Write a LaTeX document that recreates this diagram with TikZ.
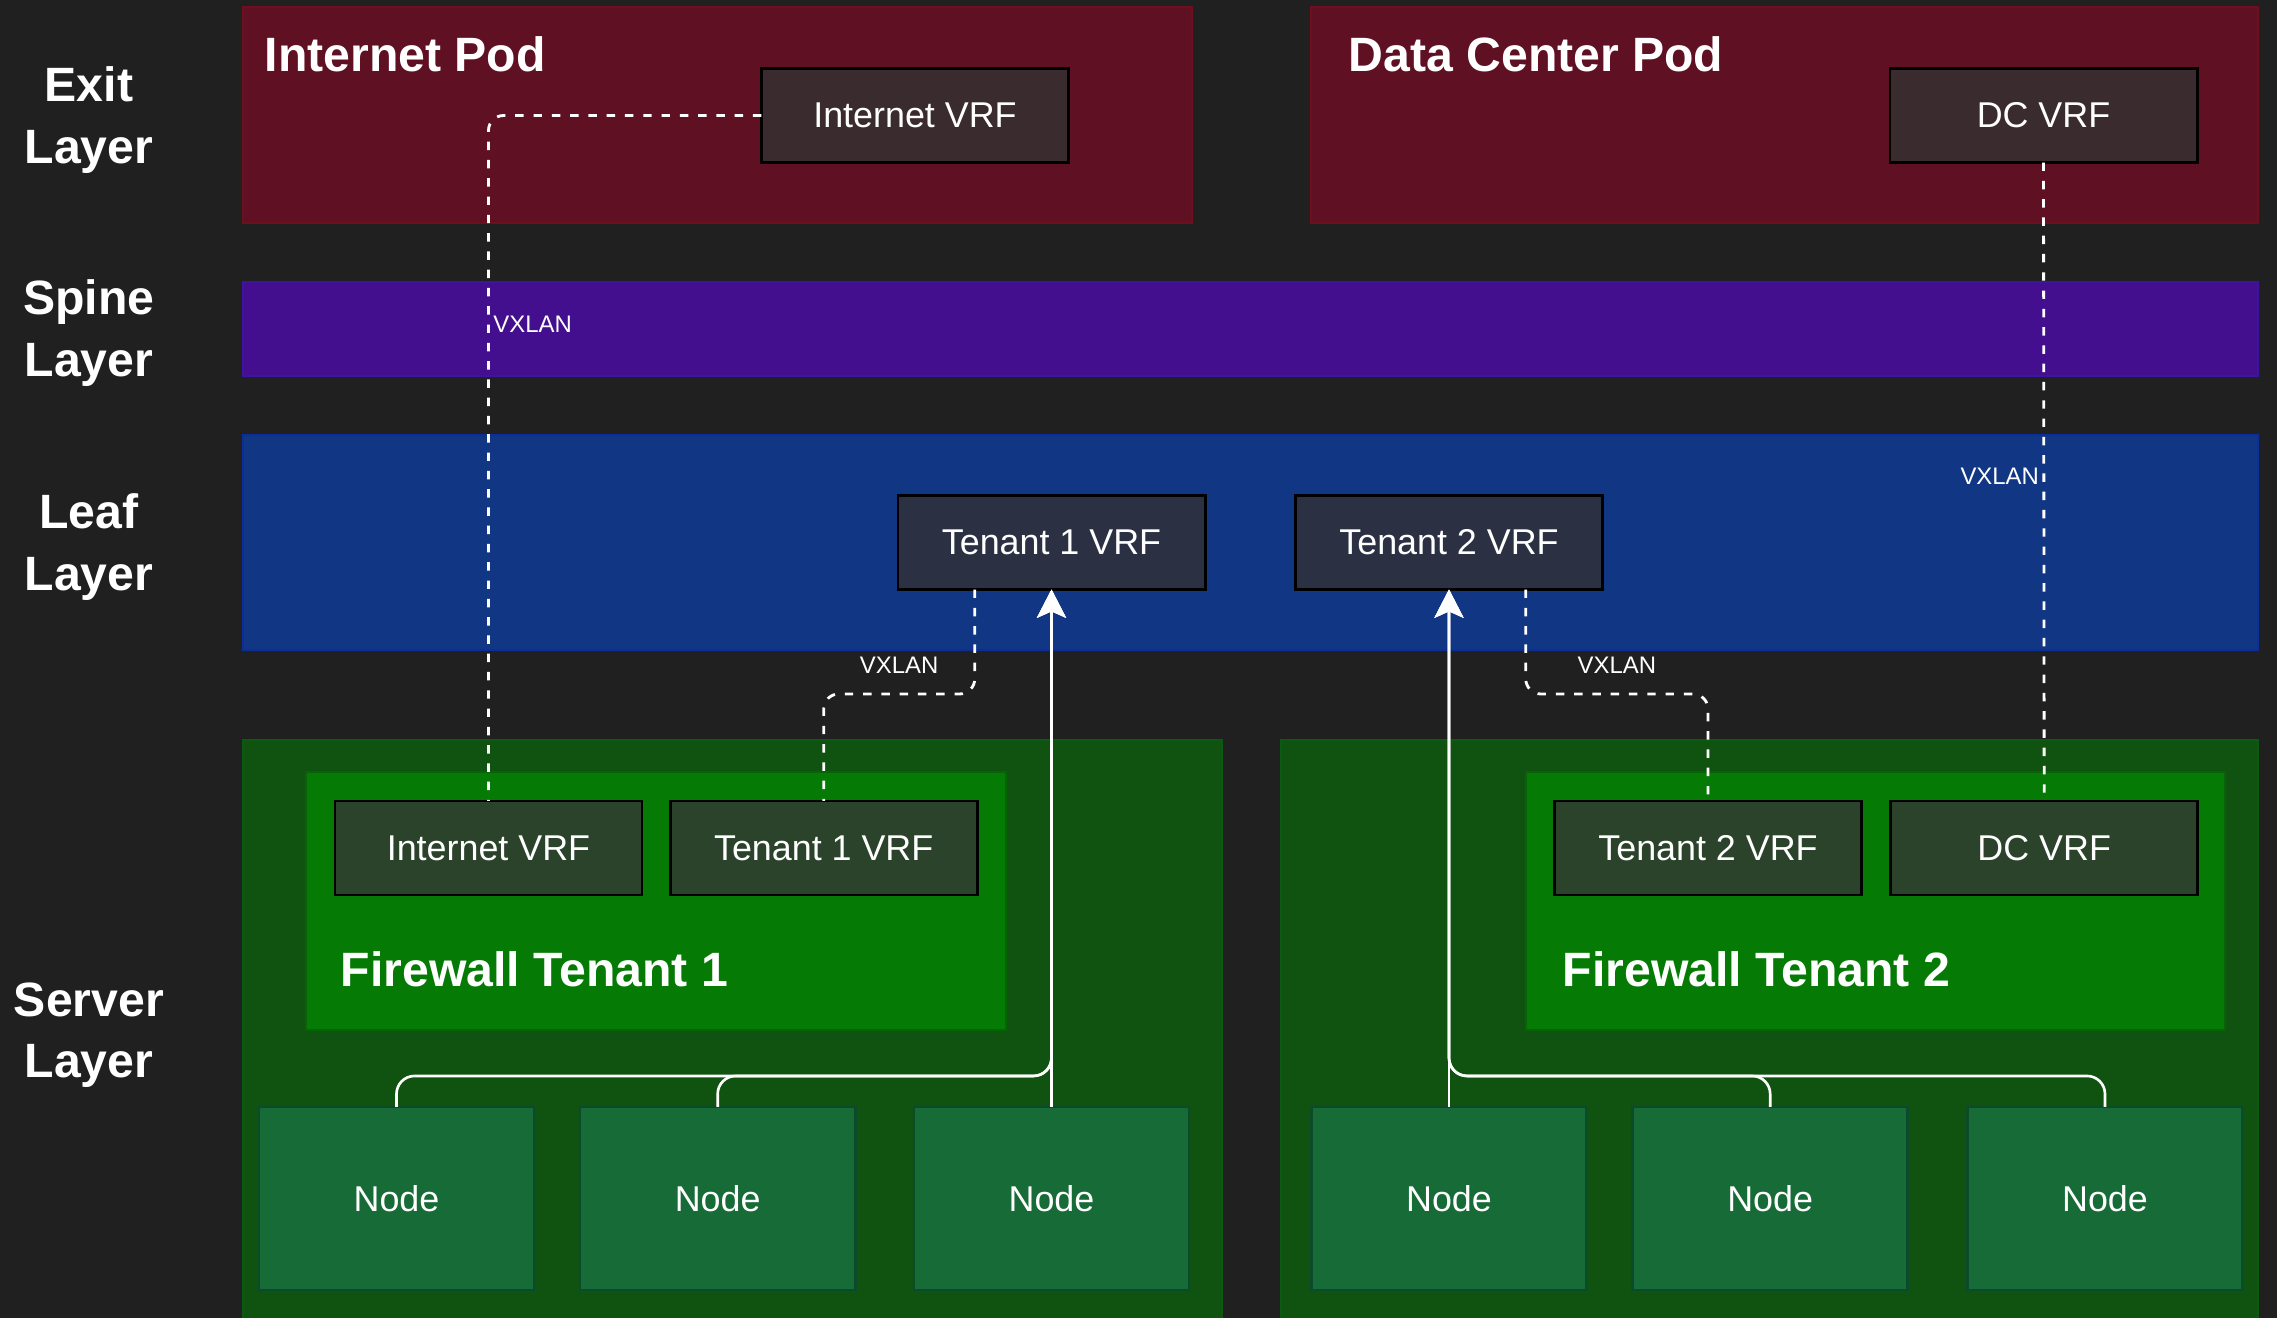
\documentclass[tikz,border=0pt]{standalone}
\usepackage{fontspec}
\setmainfont{Liberation Sans}
\usetikzlibrary{positioning,calc,arrows.meta}
\definecolor{bgdark}{HTML}{202020}
\definecolor{podred}{HTML}{5F1022}
\definecolor{podedge}{HTML}{6D0F1C}
\definecolor{spinepurple}{HTML}{440F8E}
\definecolor{spineedge}{HTML}{3C14A0}
\definecolor{leafblue}{HTML}{113784}
\definecolor{leafedge}{HTML}{0C2E9A}
\definecolor{srvgreen}{HTML}{10520F}
\definecolor{srvedge}{HTML}{0A5A12}
\definecolor{fwgreen}{HTML}{057B05}
\definecolor{fwedge}{HTML}{066406}
\definecolor{exitvrf}{HTML}{3A2B2F}
\definecolor{leafvrf}{HTML}{2B3142}
\definecolor{srvvrf}{HTML}{2B422B}
\definecolor{nodegreen}{HTML}{176B37}
\definecolor{nodeedge}{HTML}{0C4A2C}

\begin{document}
\begin{tikzpicture}[x=0.01cm,y=-0.01cm,
    band/.style={inner sep=0pt,outer sep=0pt,anchor=north west,line width=0.6pt},
    vrf/.style={draw=black,line width=0.8pt,inner sep=0pt,outer sep=0pt,minimum width=3.07cm,minimum height=0.94cm,text=white,font=\fontsize{10.2}{12}\selectfont},
    srvnode/.style={draw=nodeedge,fill=nodegreen,line width=0.75pt,inner sep=0pt,outer sep=0pt,minimum width=2.75cm,minimum height=1.83cm,text=white,font=\fontsize{10.2}{12}\selectfont},
    layername/.style={text=white,align=center,inner sep=0pt,font=\bfseries\fontsize{13.7}{17.4}\selectfont},
    podtitle/.style={text=white,anchor=base west,inner sep=0pt,font=\bfseries\fontsize{13.7}{16}\selectfont},
    vxlan/.style={draw=white,line width=0.8pt,dash pattern=on 2.4pt off 2.8pt,rounded corners=0.15cm},
    vxlabel/.style={text=white,inner sep=1pt,font=\fontsize{6.8}{8}\selectfont},
    uplink/.style={draw=white,line width=0.75pt,rounded corners=0.18cm,-{Stealth[length=8pt,width=8.2pt,inset=1.8pt]}}
  ]
  \useasboundingbox (0,0) rectangle (2277,1317);
  \fill[bgdark] (-5,-5) rectangle (2282,1322);

  \node[band,fill=podred,draw=podedge,minimum width=9.48cm,minimum height=2.16cm] (p1) at (243,7) {};
  \node[band,fill=podred,draw=podedge,minimum width=9.46cm,minimum height=2.16cm] (p2) at (1311,7) {};
  \node[band,fill=spinepurple,draw=spineedge,minimum width=20.14cm,minimum height=0.94cm] (sp) at (243,282) {};
  \node[band,fill=leafblue,draw=leafedge,minimum width=20.14cm,minimum height=2.15cm] (lf) at (243,435) {};
  \node[band,fill=srvgreen,draw=srvedge,minimum width=9.78cm,minimum height=5.9cm] (sv1) at (243,740) {};
  \node[band,fill=srvgreen,draw=srvedge,minimum width=9.76cm,minimum height=5.9cm] (sv2) at (1281,740) {};
  \node[band,fill=fwgreen,draw=fwedge,minimum width=7.00cm,minimum height=2.58cm] (fw1) at (306,772) {};
  \node[band,fill=fwgreen,draw=fwedge,minimum width=6.99cm,minimum height=2.58cm] (fw2) at (1526,772) {};

  \node[layername] (exl) at (89,120) {Exit\\Layer};
  \node[layername] (spl) at (89,333) {Spine\\Layer};
  \node[layername] (lfl) at (89,547) {Leaf\\Layer};
  \node[layername] (svl) at (89,1035) {Server\\Layer};

  \node[podtitle] (tp1) at (264,71) {Internet Pod};
  \node[podtitle] (tp2) at (1348,71) {Data Center Pod};
  \node[podtitle] (tf1) at (340,986) {Firewall Tenant 1};
  \node[podtitle] (tf2) at (1562,986) {Firewall Tenant 2};

  \node[vrf,fill=exitvrf] (e1) at (915,115.5) {Internet VRF};
  \node[vrf,fill=exitvrf] (e2) at (2043.5,115.5) {DC VRF};
  \node[vrf,fill=leafvrf] (l1) at (1051.5,542.5) {Tenant 1 VRF};
  \node[vrf,fill=leafvrf] (l2) at (1449,542.5) {Tenant 2 VRF};
  \node[vrf,fill=srvvrf] (s1) at (488.5,848) {Internet VRF};
  \node[vrf,fill=srvvrf,right=0.28cm of s1] (s2) {Tenant 1 VRF};
  \node[vrf,fill=srvvrf] (s3) at (1708,848) {Tenant 2 VRF};
  \node[vrf,fill=srvvrf,right=0.29cm of s3] (s4) {DC VRF};

  \node[srvnode] (n1) at (396.5,1198.5) {Node};
  \node[srvnode,right=0.46cm of n1] (n2) {Node};
  \node[srvnode] (n3) at (1051.5,1198.5) {Node};
  \node[srvnode] (n4) at (1449,1198.5) {Node};
  \node[srvnode,right=0.46cm of n4] (n5) {Node};
  \node[srvnode] (n6) at (2105,1198.5) {Node};

  \draw[vxlan] (e1.west) -| (s1.north) node[vxlabel,pos=0.652,anchor=west] {VXLAN};
  \draw[vxlan] (e2.south) -- (s4.north) node[vxlabel,pos=0.492,anchor=east] {VXLAN};
  \draw[vxlan] ($(l1.south)!0.5!(l1.south west)$) |- ($(s2.north)+(0,-107)$) node[vxlabel,pos=0.75,above=0.16cm] {VXLAN} -- (s2.north);
  \draw[vxlan] ($(l2.south)!0.5!(l2.south east)$) |- ($(s3.north)+(0,-107)$) node[vxlabel,pos=0.75,above=0.16cm] {VXLAN} -- (s3.north);

  \draw[uplink] (n1.north) -- ++(0,-31) -| (l1.south);
  \draw[uplink] (n2.north) -- ++(0,-31) -| (l1.south);
  \draw[uplink] (n3.north) -- (l1.south);
  \draw[uplink] (n4.north) -- (l2.south);
  \draw[uplink] (n5.north) -- ++(0,-31) -| (l2.south);
  \draw[uplink] (n6.north) -- ++(0,-31) -| (l2.south);
\end{tikzpicture}
\end{document}
